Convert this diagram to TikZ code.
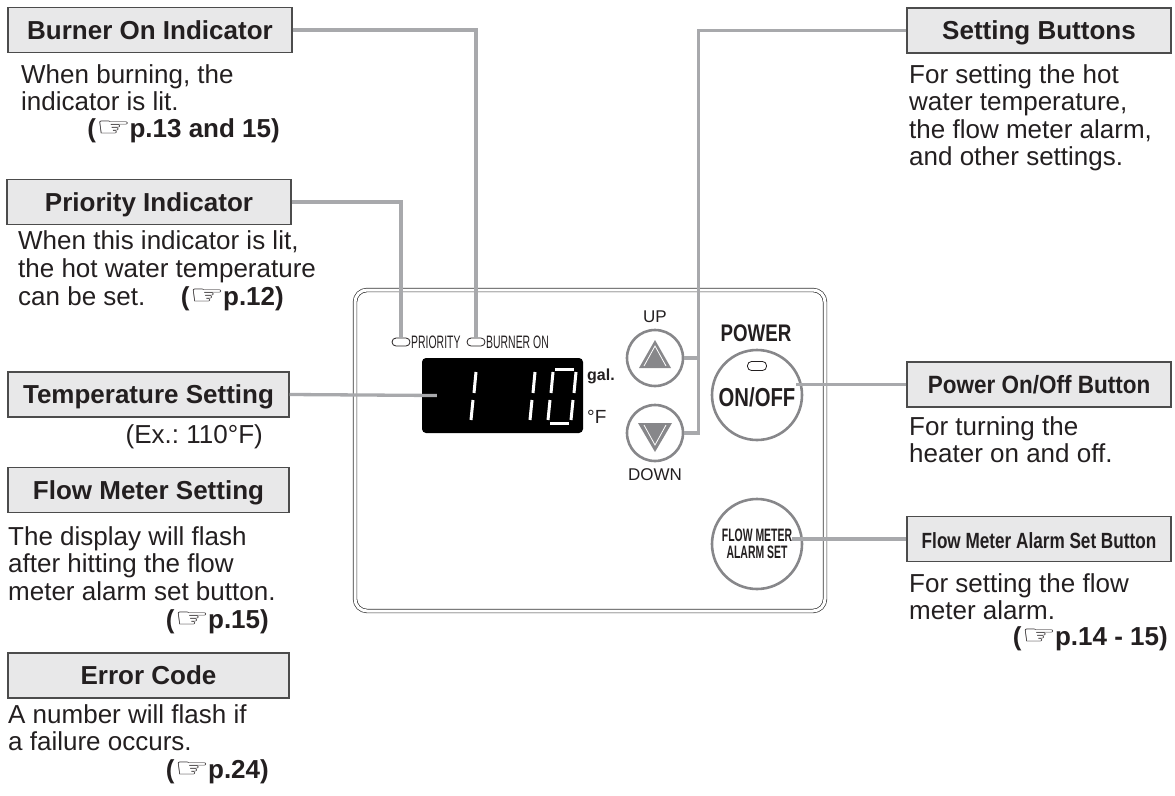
\documentclass[tikz,border=0pt]{standalone}
\usepackage{fontspec}
\setmainfont{Liberation Sans}
\newfontfamily\narrowfont[FakeStretch=0.58]{Liberation Sans}
\newfontfamily\condfont[FakeStretch=0.78]{Liberation Sans}
\newfontfamily\semicondfont[FakeStretch=0.9]{Liberation Sans}
\newfontfamily\handfont{DejaVu Sans}
\usetikzlibrary{positioning,calc}
\definecolor{leadgray}{RGB}{168,169,172}
\definecolor{boxgray}{RGB}{232,232,233}
\definecolor{btngray}{RGB}{135,135,138}
\definecolor{inkgray}{RGB}{35,31,32}
\newcommand{\handref}{{\handfont\fontsize{20}{20}\selectfont\raisebox{1pt}{\scalebox{1.95}[1.35]{☞}}\kern-1.5pt}}
\frenchspacing

\begin{document}
\begin{tikzpicture}[
    x=1pt, y=-1pt,
    every node/.style={inner sep=0pt, text=inkgray},
    headbox/.style={rectangle, draw=black!70, fill=boxgray, line width=1.1pt, minimum width=#1, minimum height=45pt, text height=18.6pt, text depth=0pt, font=\fontsize{26}{28}\selectfont\bfseries},
    bodytext/.style={anchor=north west, align=left, font=\fontsize{26}{27.5}\selectfont},
    reftext/.style={anchor=base east, text height=19pt, font=\fontsize{26}{28}\selectfont\bfseries},
    lead/.style={draw=leadgray, line width=3.3pt},
    roundbtn/.style={circle, draw=btngray, line width=2.6pt, minimum size=#1},
    ledlamp/.style={rectangle, rounded corners=4pt, draw=inkgray, line width=0.8pt, minimum width=18pt, minimum height=8pt},
    segment/.style={white, line width=3pt},
    paneltext/.style={font=\fontsize{17}{17}\selectfont}
]
\useasboundingbox (0,0) rectangle (1175,795);

% Control panel
\node[draw=black!80, double=white, double distance=3pt, line width=0.7pt, rounded corners=12pt, minimum width=470pt, minimum height=321pt] (panel) at (590,450.5) {};

% Display
\node[fill=black, rounded corners=4pt, minimum width=161pt, minimum height=75pt] (disp) at (502.5,395.5) {};
\draw[segment] (476,372) -- (474,393) (473,400) -- (471,420);
\draw[segment] (535,372) -- (533,393) (532,400) -- (530,420);
\draw[segment] (553,372) -- (551,393) (550,400) -- (548,420);
\draw[segment] (576,372) -- (574,393) (573,400) -- (571,420);
\draw[segment] (555,369) -- (574,369) (550,423) -- (569,423);
\node[anchor=base west, font=\fontsize{16}{16}\selectfont\bfseries] (galunit) at (587,380) {gal.};
\node[anchor=base west, font=\fontsize{19}{19}\selectfont] (funit) at (587,423) {°F};

% Indicators
\node[ledlamp] (ledprio) at (401,342) {};
\node[anchor=west, font=\narrowfont\fontsize{18}{18}\selectfont] (priotxt) at (411,342) {PRIORITY};
\node[ledlamp] (ledburner) at (476,342) {};
\node[anchor=west, font=\narrowfont\fontsize{18}{18}\selectfont] (burnertxt) at (486,342) {BURNER ON};

% Up / down buttons
\node[paneltext] (uptxt) at (655,317) {UP};
\node[roundbtn=56pt] (upbtn) at (655,358) {};
\fill[btngray] (639,368) -- (671,368) -- (655,340) -- cycle;
\draw[white, line width=0.8pt] (644,366) -- (655,346) -- (666,366);
\node[roundbtn=56pt] (dnbtn) at (655,433) {};
\fill[btngray] (638,423) -- (672,423) -- (655,452) -- cycle;
\draw[white, line width=0.8pt] (644,425) -- (655,445) -- (666,425);
\node[paneltext] (dntxt) at (655,475) {DOWN};

% Power and flow meter buttons
\node[font=\condfont\fontsize{24}{24}\selectfont\bfseries] (powertxt) at (756,333) {POWER};
\node[roundbtn=90pt] (pwrbtn) at (757,395) {};
\node[ledlamp, minimum width=19pt, minimum height=9pt] (pwrled) at (757,366) {};
\node[font=\condfont\fontsize{26}{26}\selectfont\bfseries] (onofftxt) at (757,397) {ON/OFF};
\node[roundbtn=90pt] (flowbtn) at (757,544) {};
\node[align=center, font=\narrowfont\fontsize{18}{17}\selectfont\bfseries] (flowtxt) at (757,544) {FLOW METER\\ALARM SET};

% Left column
\node[headbox=284pt] (burnerhd) at (150,30) {Burner On Indicator};
\node[bodytext] (burnertx) at (21,64) {When burning, the\\indicator is lit.};
\node[reftext] (burnerref) at (280,137) {(\handref p.13 and 15)};

\node[headbox=284pt] (priohd) at (149,202) {Priority Indicator};
\node[bodytext, font=\fontsize{26}{28}\selectfont] (priotx) at (18,230) {When this indicator is lit,\\the hot water temperature\\can be set.};
\node[reftext] (prioref) at (284,305) {(\handref p.12)};

\node[headbox=281pt] (temphd) at (148.5,394.5) {Temperature Setting};
\node[anchor=base east, font=\fontsize{26}{28}\selectfont] (tempex) at (263,443) {(Ex.: 110°F)};

\node[headbox=281pt] (flowsethd) at (148.5,490) {Flow Meter Setting};
\node[bodytext] (flowsettx) at (8,526) {The display will flash\\after hitting the flow\\meter alarm set button.};
\node[reftext] (flowsetref) at (269,628) {(\handref p.15)};

\node[headbox=281pt] (errhd) at (148.5,675.5) {Error Code};
\node[bodytext] (errtx) at (8,704) {A number will flash if\\a failure occurs.};
\node[reftext] (errref) at (269,778) {(\handref p.24)};

% Right column
\node[headbox=264pt] (sethd) at (1039,30.5) {Setting Buttons};
\node[bodytext] (settx) at (909,64) {For setting the hot\\water temperature,\\the flow meter alarm,\\and other settings.};

\node[headbox=264pt, font=\semicondfont\fontsize{25}{25}\selectfont\bfseries] (pwrhd) at (1039,384.5) {Power On/Off Button};
\node[bodytext] (pwrtx) at (909,416) {For turning the\\heater on and off.};

\node[headbox=264pt, font=\condfont\fontsize{22}{22}\selectfont\bfseries] (alarmhd) at (1039,539) {Flow Meter Alarm Set Button};
\node[bodytext] (alarmtx) at (909,573) {For setting the flow\\meter alarm.};
\node[reftext] (alarmref) at (1168,645) {(\handref p.14 - 15)};

% Leader lines
\draw[lead] (burnerhd.east) -| (ledburner.north);
\draw[lead] (priohd.east) -| (ledprio.north);
\draw[lead] (temphd.east) -- ([xshift=15pt]disp.west);
\draw[lead] (sethd.west) -| ([xshift=14pt]dnbtn.east) -- (dnbtn.east);
\draw[lead] (upbtn.east) -- ++(14,0);
\draw[lead] (pwrhd.west) -- (pwrhd.west -| onofftxt.east);
\draw[lead] (alarmhd.west) -- (alarmhd.west -| flowtxt.east);

\end{tikzpicture}
\end{document}
